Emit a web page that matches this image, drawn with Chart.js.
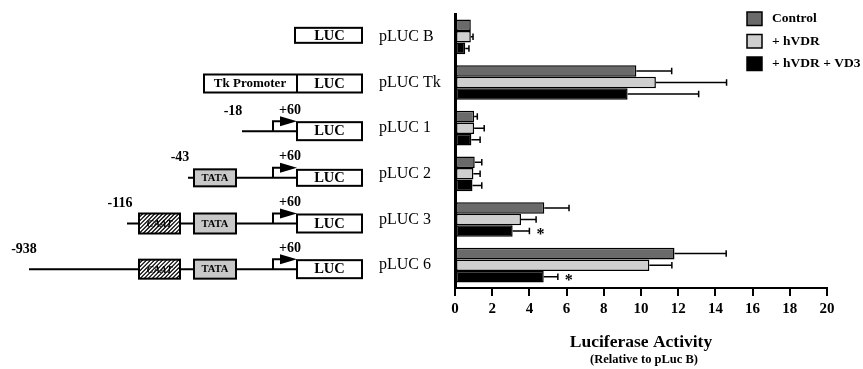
<!DOCTYPE html>
<html>
<head>
<meta charset="utf-8">
<script src="https://cdn.jsdelivr.net/npm/chart.js@4/dist/chart.umd.min.js"></script>
<style>
  html, body { margin: 0; background: #fff; }
  #wrap { position: relative; width: 863px; height: 369px; }
</style>
</head>
<body>
<div id="wrap"><canvas id="chart"></canvas></div>
<script>
// ─── Data ──────────────────────────────────────────
const categories = ['pLUC B', 'pLUC Tk', 'pLUC 1', 'pLUC 2', 'pLUC 3', 'pLUC 6'];
const seriesNames = ['Control', '+ hVDR', '+ hVDR + VD3'];
const controlMean = [0.85, 9.75, 1.03, 1.06, 4.8, 11.8];
const controlErr  = [0,    1.9,  0.17, 0.38, 1.33, 2.78];
const hvdrMean    = [0.85, 10.8, 1.03, 0.99, 3.55, 10.45];
const hvdrErr     = [0.12, 3.8,  0.54, 0.36, 0.81, 1.21];
const vd3Mean     = [0.55, 9.28, 0.88, 0.94, 3.1, 4.77];
const vd3Err      = [0.2,  3.82, 0.47, 0.5,  0.9, 0.76];
const vd3Significant = [false, false, false, false, true, true];
const xTicks = [0, 2, 4, 6, 8, 10, 12, 14, 16, 18, 20];

const SERIF = '"Liberation Serif", "Times New Roman", serif';

// promoter drawings beside each row (decoration only)
const constructs = [
  { dy: -1.5, boxH: 15 },
  { dy: 1, boxH: 18, tk: true },
  { dy: 3, boxH: 18, lineFrom: 242, from: '-18', fromX: 233 },
  { dy: 4, boxH: 16, lineFrom: 188, from: '-43', fromX: 180, tataH: 17 },
  { dy: 4, boxH: 18, lineFrom: 127, from: '-116', fromX: 120, tataH: 20, caat: true },
  { dy: 4, boxH: 18, lineFrom: 29, from: '-938', fromX: 24, tataH: 19, caat: true }
];

// ─── Plugins ───────────────────────────────────────
const errorBars = {
  id: 'errorBars',
  afterDatasetsDraw(chart) {
    const errs = [controlErr, hvdrErr, vd3Err];
    const xs = chart.scales.x;
    const ctx = chart.ctx;
    ctx.save();
    ctx.strokeStyle = '#000';
    ctx.lineWidth = 1.5;
    chart.data.datasets.forEach((ds, i) => {
      chart.getDatasetMeta(i).data.forEach((bar, j) => {
        const e = errs[i][j];
        const x1 = xs.getPixelForValue(ds.data[j] + e);
        if (e) {
          const cap = bar.height * 0.28;
          ctx.beginPath();
          ctx.moveTo(bar.x, bar.y); ctx.lineTo(x1, bar.y);
          ctx.moveTo(x1, bar.y - cap); ctx.lineTo(x1, bar.y + cap);
          ctx.stroke();
        }
        if (i === 2 && vd3Significant[j]) {
          ctx.fillStyle = '#000';
          ctx.font = 'bold 16px ' + SERIF;
          ctx.textAlign = 'center';
          ctx.textBaseline = 'middle';
          ctx.fillText('*', x1 + 11, bar.y + 4);
        }
      });
    });
    ctx.restore();
  }
};

function box(ctx, x0, x1, yc, h, fill) {
  ctx.fillStyle = fill;
  ctx.fillRect(x0, yc - h / 2, x1 - x0, h);
  ctx.strokeRect(x0, yc - h / 2, x1 - x0, h);
}

const diagrams = {
  id: 'diagrams',
  afterDraw(chart) {
    const ctx = chart.ctx;
    const ys = chart.scales.y;
    ctx.save();
    ctx.strokeStyle = '#000';
    ctx.lineWidth = 2;
    ctx.textAlign = 'center';
    ctx.textBaseline = 'middle';
    constructs.forEach((c, i) => {
      const yc = ys.getPixelForValue(i) + c.dy;
      if (c.lineFrom) {
        ctx.beginPath();
        ctx.moveTo(c.lineFrom, yc); ctx.lineTo(297, yc);
        ctx.moveTo(273, yc); ctx.lineTo(273, yc - 10); ctx.lineTo(282, yc - 10);
        ctx.stroke();
        ctx.fillStyle = '#000';
        ctx.beginPath();
        ctx.moveTo(280, yc - 15); ctx.lineTo(297, yc - 10); ctx.lineTo(280, yc - 5);
        ctx.closePath(); ctx.fill();
        ctx.font = 'bold 14px ' + SERIF;
        ctx.fillText('+60', 290, yc - 21);
        ctx.fillText(c.from, c.fromX, yc - 20);
      }
      if (c.caat) {
        const x0 = 139, x1 = 180, h = c.tataH;
        ctx.fillStyle = '#fff';
        ctx.fillRect(x0, yc - h / 2, x1 - x0, h);
        ctx.fillStyle = '#000';
        ctx.font = 'bold italic 10px ' + SERIF;
        ctx.fillText('CAAT', (x0 + x1) / 2, yc + 1);
        ctx.save();
        ctx.beginPath(); ctx.rect(x0, yc - h / 2, x1 - x0, h); ctx.clip();
        ctx.lineWidth = 1.2;
        ctx.beginPath();
        for (let k = -h; k < x1 - x0 + h; k += 4) {
          ctx.moveTo(x0 + k, yc + h / 2); ctx.lineTo(x0 + k + h, yc - h / 2);
        }
        ctx.stroke();
        ctx.restore();
        ctx.strokeRect(x0, yc - h / 2, x1 - x0, h);
      }
      if (c.tataH) {
        box(ctx, 194, 236, yc, c.tataH, '#c8c8c8');
        ctx.fillStyle = '#000';
        ctx.font = 'bold 10.5px ' + SERIF;
        ctx.fillText('TATA', 215, yc + 0.5);
      }
      if (c.tk) {
        box(ctx, 204, 362, yc, c.boxH, '#fff');
        ctx.beginPath(); ctx.moveTo(297, yc - c.boxH / 2); ctx.lineTo(297, yc + c.boxH / 2); ctx.stroke();
        ctx.fillStyle = '#000';
        ctx.font = 'bold 13px ' + SERIF;
        ctx.fillText('Tk Promoter', 250, yc + 0.5);
      } else {
        box(ctx, i === 0 ? 295 : 297, 362, yc, c.boxH, '#fff');
      }
      ctx.fillStyle = '#000';
      ctx.font = 'bold 14.5px ' + SERIF;
      ctx.fillText('LUC', 329.5, yc + 0.5);
    });
    ctx.restore();
  }
};

const customLegend = {
  id: 'customLegend',
  afterDraw(chart) {
    const ctx = chart.ctx;
    const area = chart.chartArea;
    ctx.save();
    ctx.lineWidth = 1.5;
    ctx.strokeStyle = '#000';
    ctx.textAlign = 'left';
    ctx.textBaseline = 'middle';
    chart.data.datasets.forEach((ds, i) => {
      const y = 12 + i * 22.5;
      ctx.fillStyle = ds.backgroundColor;
      ctx.fillRect(747, y, 15, 13.5);
      ctx.strokeRect(747, y, 15, 13.5);
      ctx.fillStyle = '#000';
      ctx.font = 'bold 13.5px ' + SERIF;
      ctx.fillText(ds.label, 772, y + 7);
    });
    // sub-title under the x-axis title
    ctx.textAlign = 'center';
    ctx.font = 'bold 12.5px ' + SERIF;
    ctx.fillText('(Relative to pLuc B)', (area.left + area.right) / 2 + 3, 360);
    ctx.restore();
  }
};

// ─── Chart ─────────────────────────────────────────
const barStyle = { borderColor: '#000', borderWidth: 1.5, borderSkipped: false };

new Chart(document.getElementById('chart'), {
  type: 'bar',
  data: {
    labels: categories,
    datasets: [
      { label: seriesNames[0], data: controlMean, backgroundColor: '#6a6a6a', ...barStyle },
      { label: seriesNames[1], data: hvdrMean, backgroundColor: '#cfcfcf', ...barStyle },
      { label: seriesNames[2], data: vd3Mean, backgroundColor: '#000000', ...barStyle }
    ]
  },
  options: {
    indexAxis: 'y',
    responsive: true,
    maintainAspectRatio: false,
    animation: false,
    layout: { padding: { left: 379, right: 36, top: 14, bottom: 16 } },
    datasets: { bar: { categoryPercentage: 0.76, barPercentage: 1 } },
    plugins: { legend: { display: false }, tooltip: { enabled: false } },
    scales: {
      x: {
        min: 0, max: 20,
        afterBuildTicks: s => { s.ticks = xTicks.map(v => ({ value: v })); },
        afterFit: s => { s.height = 65; },
        grid: { drawOnChartArea: false, drawTicks: true, tickLength: 8, color: '#000', lineWidth: 2 },
        border: { color: '#000', width: 2 },
        ticks: { color: '#000', padding: 4, font: { family: SERIF, size: 15, weight: 'bold' } },
        title: {
          display: true, text: 'Luciferase Activity', color: '#000',
          font: { family: SERIF, size: 17.5, weight: 'bold' }, padding: 0
        }
      },
      y: {
        afterFit: s => { s.width = 76; },
        grid: { display: false },
        border: { color: '#000', width: 3 },
        ticks: { color: '#000', crossAlign: 'far', padding: 0, font: { family: SERIF, size: 16 } }
      }
    }
  },
  plugins: [errorBars, diagrams, customLegend]
});
</script>
</body>
</html>
